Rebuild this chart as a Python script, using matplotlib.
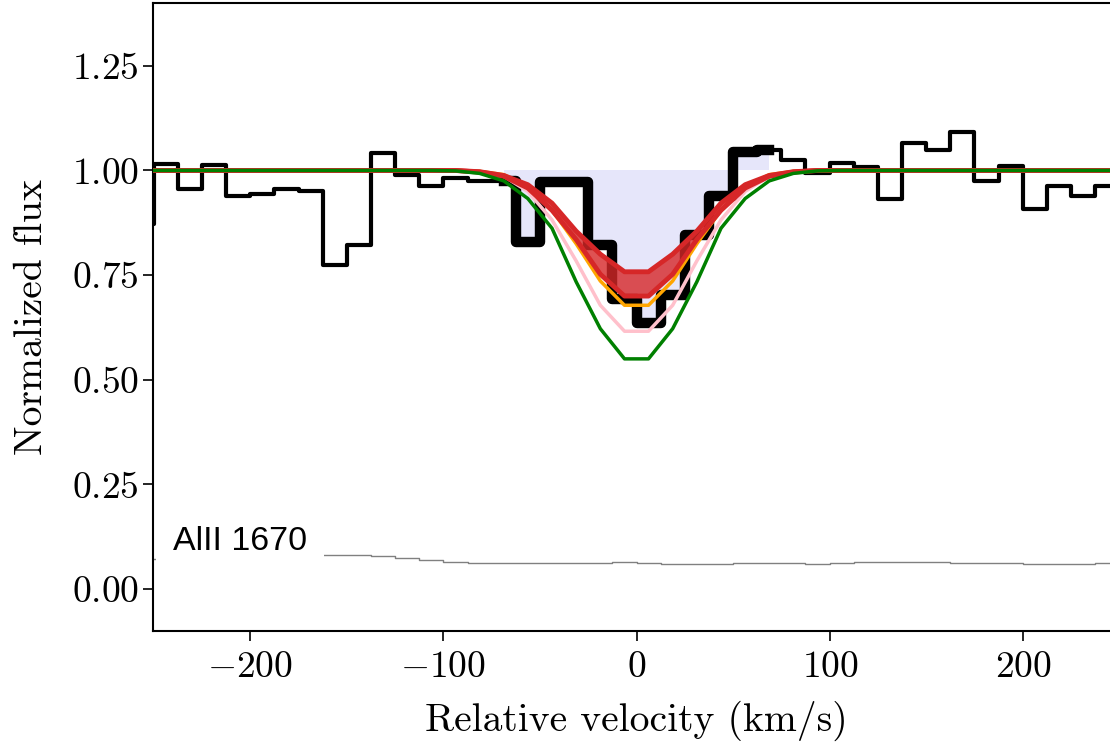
import matplotlib

matplotlib.use("Agg")
import matplotlib.pyplot as plt
import numpy as np

# bin centres of the spectrum (km/s)
velocity = [
    -255.8, -243.4, -230.9, -218.4, -205.9, -193.4, -181.0, -168.5, -156.0, -143.5,
    -131.0, -118.6, -106.1, -93.6, -81.1, -68.6, -56.2, -43.7, -31.2, -18.7,
    -6.2, 6.2, 18.7, 31.2, 43.7, 56.2, 68.6, 81.1, 93.6, 106.1,
    118.6, 131.0, 143.5, 156.0, 168.5, 181.0, 193.4, 205.9, 218.4, 230.9,
    243.4, 255.8,
]
flux = [
    0.873, 1.015, 0.955, 1.012, 0.938, 0.943, 0.955, 0.952, 0.775, 0.821,
    1.041, 0.990, 0.962, 0.981, 0.976, 0.975, 0.830, 0.973, 0.973, 0.821,
    0.694, 0.636, 0.703, 0.845, 0.938, 1.045, 1.050, 1.024, 0.995, 1.017,
    1.008, 0.933, 1.065, 1.050, 1.093, 0.974, 1.010, 0.909, 0.962, 0.938,
    0.964, 0.964,
]
error = [
    0.072, 0.073, 0.074, 0.075, 0.076, 0.078, 0.080, 0.081, 0.082, 0.081,
    0.080, 0.075, 0.070, 0.065, 0.062, 0.0615, 0.0615, 0.0615, 0.0615, 0.0615,
    0.065, 0.063, 0.059, 0.060, 0.0605, 0.0615, 0.062, 0.062, 0.0605, 0.062,
    0.064, 0.065, 0.065, 0.0645, 0.063, 0.063, 0.0615, 0.0605, 0.0605, 0.0605,
    0.062, 0.062,
]
model_green = [
    1.0, 1.0, 1.0, 1.0, 1.0, 1.0, 1.0, 1.0, 1.0, 1.0,
    1.0, 1.0, 1.0, 0.999, 0.993, 0.975, 0.933, 0.862, 0.734, 0.622,
    0.550, 0.550, 0.622, 0.734, 0.862, 0.933, 0.975, 0.993, 0.999, 1.0,
    1.0, 1.0, 1.0, 1.0, 1.0, 1.0, 1.0, 1.0, 1.0, 1.0,
    1.0, 1.0,
]
model_pink = [
    1.0, 1.0, 1.0, 1.0, 1.0, 1.0, 1.0, 1.0, 1.0, 1.0,
    1.0, 1.0, 1.0, 1.0, 0.997, 0.986, 0.950, 0.882, 0.784, 0.678,
    0.616, 0.616, 0.678, 0.784, 0.882, 0.950, 0.986, 0.997, 1.0, 1.0,
    1.0, 1.0, 1.0, 1.0, 1.0, 1.0, 1.0, 1.0, 1.0, 1.0,
    1.0, 1.0,
]
model_orange = [
    1.0, 1.0, 1.0, 1.0, 1.0, 1.0, 1.0, 1.0, 1.0, 1.0,
    1.0, 1.0, 1.0, 1.0, 0.998, 0.990, 0.962, 0.905, 0.825, 0.736,
    0.678, 0.678, 0.736, 0.825, 0.905, 0.962, 0.990, 0.998, 1.0, 1.0,
    1.0, 1.0, 1.0, 1.0, 1.0, 1.0, 1.0, 1.0, 1.0, 1.0,
    1.0, 1.0,
]
band_upper = [
    1.0, 1.0, 1.0, 1.0, 1.0, 1.0, 1.0, 1.0, 1.0, 1.0,
    1.0, 1.0, 1.0, 1.0, 0.997, 0.988, 0.966, 0.922, 0.855, 0.800,
    0.758, 0.758, 0.800, 0.855, 0.922, 0.966, 0.988, 0.997, 1.0, 1.0,
    1.0, 1.0, 1.0, 1.0, 1.0, 1.0, 1.0, 1.0, 1.0, 1.0,
    1.0, 1.0,
]
band_lower = [
    1.0, 1.0, 1.0, 1.0, 1.0, 1.0, 1.0, 1.0, 1.0, 1.0,
    1.0, 1.0, 1.0, 1.0, 0.996, 0.986, 0.958, 0.905, 0.835, 0.752,
    0.700, 0.700, 0.752, 0.835, 0.905, 0.958, 0.986, 0.996, 1.0, 1.0,
    1.0, 1.0, 1.0, 1.0, 1.0, 1.0, 1.0, 1.0, 1.0, 1.0,
    1.0, 1.0,
]
# bins used in the fit (thick line + shaded area)
fit_start, fit_stop = 15, 27

plt.rcParams["font.family"] = "serif"
plt.rcParams["font.serif"] = ["cmr10"]
plt.rcParams["mathtext.fontset"] = "cm"
plt.rcParams["axes.formatter.use_mathtext"] = True
plt.rcParams["axes.unicode_minus"] = True

v = np.array(velocity)
f = np.array(flux)

fig = plt.figure(figsize=(11.1, 7.42), dpi=100)
ax = fig.add_axes([153 / 1110, 111 / 742, 967 / 1110, 628 / 742])

sel = slice(fit_start, fit_stop)
ax.fill_between(v[sel], f[sel], 1.0, step="mid", color="lavender", lw=0, zorder=1)
ax.step(v, f, where="mid", color="black", lw=3.0, zorder=2)
ax.step(v[sel], f[sel], where="mid", color="black", lw=7.5, zorder=3)
ax.step(v, error, where="mid", color="0.5", lw=1.0, zorder=2)

ax.plot(v, model_pink, color="pink", lw=2.5, zorder=4)
ax.plot(v, model_orange, color="orange", lw=2.5, zorder=5)
ax.fill_between(v, band_lower, band_upper, color="tab:red", alpha=0.8,
                lw=0, zorder=6)
ax.plot(v, band_upper, color="tab:red", lw=3.5, zorder=6)
ax.plot(v, band_lower, color="tab:red", lw=3.5, zorder=6)
ax.plot(v, model_green, color="green", lw=2.5, zorder=7)

ax.text(-239.5, 0.093, "AlII 1670", family=["Liberation Sans", "DejaVu Sans"],
        fontsize=24.5, ha="left", va="baseline", zorder=8,
        bbox=dict(boxstyle="square,pad=0.5", fc="white", ec="none"))

ax.set_xlim(-250, 250)
ax.set_ylim(-0.1, 1.4)
ax.set_xticks([-200, -100, 0, 100, 200])
ax.set_yticks([0.0, 0.25, 0.5, 0.75, 1.0, 1.25])
ax.yaxis.set_major_formatter(matplotlib.ticker.FormatStrFormatter("$%.2f$"))
ax.set_xlabel("Relative velocity (km/s)", fontsize=28.5, labelpad=12)
ax.set_ylabel("Normalized flux", fontsize=28.5, labelpad=16)
ax.tick_params(labelsize=27, length=7, width=1.2, direction="out")
ax.tick_params(axis="x", pad=7)
ax.tick_params(axis="y", pad=3)
for side in ax.spines.values():
    side.set_linewidth(1.5)

fig.savefig("out.png", dpi=100)
